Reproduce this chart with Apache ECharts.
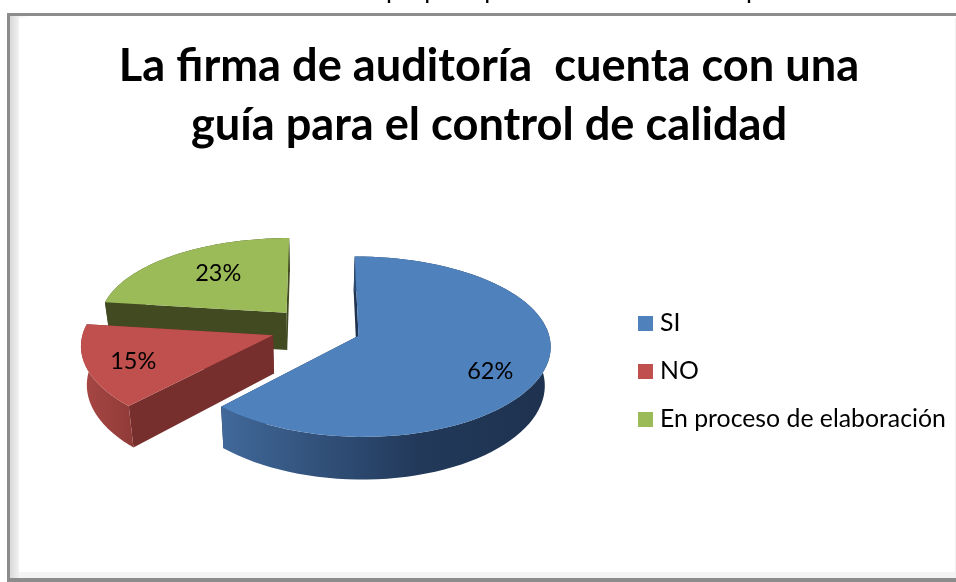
<!DOCTYPE html>
<html>
<head>
<meta charset="utf-8">
<style>html,body{margin:0;padding:0;background:#fff}#c{width:956px;height:582px}</style>
<script src="https://cdn.jsdelivr.net/npm/echarts@6/dist/echarts.min.js"></script>
</head>
<body>
<div id="c"></div>
<script>
const categories = ['SI', 'NO', 'En proceso de elaboración'];
const values = [62, 15, 23];
const titleLines = ['La firma de auditoría  cuenta con una', 'guía para el control de calidad'];
const sourceNote = 'Fuente: Elaboración propia a partir de los datos recopilados';

// Style and layout, kept apart from the data
const topColors = ['#4f81bd', '#c0504d', '#9bbb59'];
const faceColors = ['#1f3350', '#772f2d', '#414a20'];
const rimStops = [
  [[0, '#41699a'], [0.6, '#22395a'], [1, '#1e324f']],
  [[0, '#8f3b38'], [1, '#a84744']],
  [[0, '#414a20'], [1, '#414a20']]
];
const paintOrder = [4, 3, 2];
const labelAngleShift = [9, -1.9, 3.4];
const labelRadius = [0.761, 0.76, 0.64];
const FONT = 'Lato, "Open Sans", sans-serif';
const P = {cx: 316, cy: 328, a: 189, b: 87, kx: 0.1, ky: 0.12, explode: 0.24, depth: 38, kd: 0.1, shrink: 0.975};

function project(u, v) {
  return [P.cx + P.a * u / (1 - P.kx * v), P.cy + P.b * v / (1 - P.ky * v)];
}
function drop(pt, v) {
  return [P.cx + (pt[0] - P.cx) * P.shrink, pt[1] + P.depth / (1 - P.kd * v)];
}
const total = values.reduce((s, x) => s + x, 0);
const starts = [];
values.reduce((s, x, i) => { starts[i] = s; return s + x; }, 0);

function buildSlice(i) {
  const a0 = starts[i] / total * 2 * Math.PI;
  const a1 = (starts[i] + values[i]) / total * 2 * Math.PI;
  const am = (a0 + a1) / 2;
  const ox = Math.sin(am) * P.explode, oy = -Math.cos(am) * P.explode;
  const plane = (ang, r) => [ox + r * Math.sin(ang), oy - r * Math.cos(ang)];
  const rimTop = [], rimBottom = [];
  const steps = 80;
  for (let s = 0; s <= steps; s++) {
    const [u, v] = plane(a0 + (a1 - a0) * s / steps, 1);
    const p = project(u, v);
    rimTop.push(p);
    rimBottom.push(drop(p, v));
  }
  const apexPlane = plane(0, 0);
  const apex = project(apexPlane[0], apexPlane[1]);
  const apexLow = drop(apex, apexPlane[1]);
  const la = am + labelAngleShift[i] * Math.PI / 180;
  const lp = plane(la, labelRadius[i]);
  return {rimTop, rimBottom, apex, apexLow, label: project(lp[0], lp[1])};
}

function renderSlice(i) {
  return function () {
    const g = buildSlice(i);
    const n = g.rimTop.length - 1;
    const rim = g.rimTop.concat(g.rimBottom.slice().reverse());
    const faceStart = [g.apex, g.rimTop[0], g.rimBottom[0], g.apexLow];
    const faceEnd = [g.apex, g.rimTop[n], g.rimBottom[n], g.apexLow];
    const top = [g.apex].concat(g.rimTop);
    const stops = rimStops[i].map(s => ({offset: s[0], color: s[1]}));
    return {
      type: 'group',
      children: [
        {type: 'polygon', shape: {points: faceStart}, style: {fill: faceColors[i]}},
        {type: 'polygon', shape: {points: faceEnd}, style: {fill: faceColors[i]}},
        {type: 'polygon', shape: {points: rim},
          style: {fill: new echarts.graphic.LinearGradient(i === 0 ? 0 : 1, 0, i === 0 ? 1 : 0, 0, stops)}},
        {type: 'polygon', shape: {points: top}, style: {fill: topColors[i]}},
        {type: 'text', style: {
          x: g.label[0], y: g.label[1], text: values[i] + '%',
          fill: '#000', font: '23.5px ' + FONT, textAlign: 'center', textVerticalAlign: 'middle'
        }}
      ]
    };
  };
}

const frame = [
  {type: 'rect', shape: {x: 7, y: 13, width: 960, height: 569}, style: {fill: '#8c8c8c'}, z: -5},
  {type: 'rect', shape: {x: 10, y: 16, width: 960, height: 562},
    style: {fill: new echarts.graphic.LinearGradient(0, 0, 0.02, 0, [{offset: 0, color: '#d9d9d9'}, {offset: 0.5, color: '#f3f3f3'}, {offset: 1, color: '#ffffff'}])}, z: -4},
  {type: 'rect', shape: {x: 19, y: 18, width: 936, height: 554}, style: {fill: '#fff'}, z: -3},
  {type: 'rect', shape: {x: 19, y: 572, width: 936, height: 6}, style: {fill: '#f4f4f4'}, z: -3},
  {type: 'rect', shape: {x: 955, y: 18, width: 1, height: 560}, style: {fill: '#f0f0f0'}, z: -3},
  {type: 'text', style: {x: 490, y: -10, text: sourceNote, fill: '#000', font: '26px ' + FONT, textAlign: 'center', textVerticalAlign: 'middle'}, z: -6}
];

const chart = echarts.init(document.getElementById('c'), null, {renderer: 'canvas'});
chart.setOption({
  animation: false,
  backgroundColor: '#fff',
  title: {
    text: titleLines.join('\n'),
    left: 484, top: 32, textAlign: 'center',
    textStyle: {fontFamily: FONT, fontWeight: 'bold', fontSize: 45.2, lineHeight: 59, color: '#000'}
  },
  legend: {
    orient: 'vertical', left: 638, top: 311, padding: 0, itemGap: 23,
    itemWidth: 15, itemHeight: 15, icon: 'rect',
    data: categories,
    textStyle: {fontFamily: FONT, fontSize: 24.8, color: '#000', padding: [0, 0, 0, 2]}
  },
  graphic: {elements: frame},
  series: categories.map((name, i) => ({
    type: 'custom', name, coordinateSystem: 'none', z: paintOrder[i],
    itemStyle: {color: topColors[i]},
    data: [values[i]], silent: true,
    renderItem: renderSlice(i)
  }))
});
</script>
</body>
</html>
